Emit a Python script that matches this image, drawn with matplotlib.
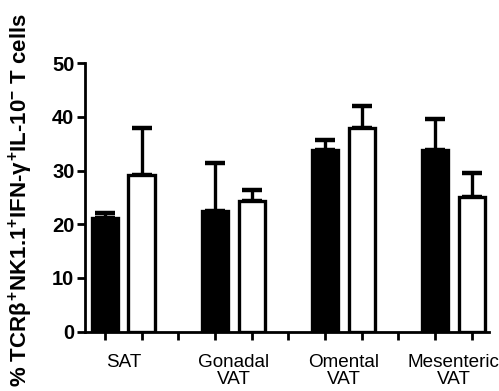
import matplotlib

matplotlib.use("Agg")
import matplotlib.pyplot as plt
import matplotlib.transforms as mtransforms

plt.rcParams["font.family"] = ["Liberation Sans", "DejaVu Sans"]
plt.rcParams["mathtext.fontset"] = "custom"
plt.rcParams["mathtext.rm"] = "Liberation Sans:bold"
plt.rcParams["mathtext.it"] = "Liberation Sans:bold"
plt.rcParams["mathtext.bf"] = "Liberation Sans:bold"

groups = ["SAT", "Gonadal\nVAT", "Omental\nVAT", "Mesenteric\nVAT"]
black_means = [21.2, 22.5, 33.8, 33.8]
black_errs = [0.9, 9.0, 2.0, 5.8]
white_means = [29.2, 24.3, 37.9, 25.1]
white_errs = [8.8, 2.0, 4.1, 4.4]
y_ticks = [0, 10, 20, 30, 40, 50]

fig = plt.figure(figsize=(4.99, 3.91), dpi=100)
ax = fig.add_axes([0.170, 0.152, 0.810, 0.686])

width = 0.72
lw = 2.4
for i in range(len(groups)):
    xb = i * 3
    xw = i * 3 + 1
    ax.bar(xb, black_means[i], width=width, color="black", edgecolor="black", linewidth=lw, zorder=2)
    ax.bar(xw, white_means[i], width=width, color="white", edgecolor="black", linewidth=lw, zorder=2)
    for x, m, e in ((xb, black_means[i], black_errs[i]), (xw, white_means[i], white_errs[i])):
        ax.errorbar(x, m, yerr=[[0], [e]], fmt="none", ecolor="black", elinewidth=lw,
                    capsize=7, capthick=3.2, zorder=1)

ax.set_xlim(-0.55, 10.47)
ax.set_ylim(0, 50)
ax.set_xticks(range(11))
ax.set_xticklabels([])
ax.set_yticks(y_ticks)
ax.set_yticklabels([str(v) for v in y_ticks], fontsize=14.5, fontweight="bold")
ax.tick_params(axis="both", direction="out", length=6, width=2, pad=1.5)
for side in ("top", "right"):
    ax.spines[side].set_visible(False)
for side in ("left", "bottom"):
    ax.spines[side].set_linewidth(2)

trans = mtransforms.blended_transform_factory(ax.transData, ax.transAxes)
for i, g in enumerate(groups):
    ax.text(i * 3 + 0.5, -0.083, g, transform=trans, ha="center", va="top",
            fontsize=13.6, linespacing=1.05)

fig.text(0.042, 0.488, r"% TCR$\beta^{+}$NK1.1$^{+}$IFN-$\gamma^{+}$IL-10$^{-}$ T cells",
         rotation=90, ha="center", va="center", fontsize=16, fontweight="bold")

fig.savefig("out.png", dpi=100)
